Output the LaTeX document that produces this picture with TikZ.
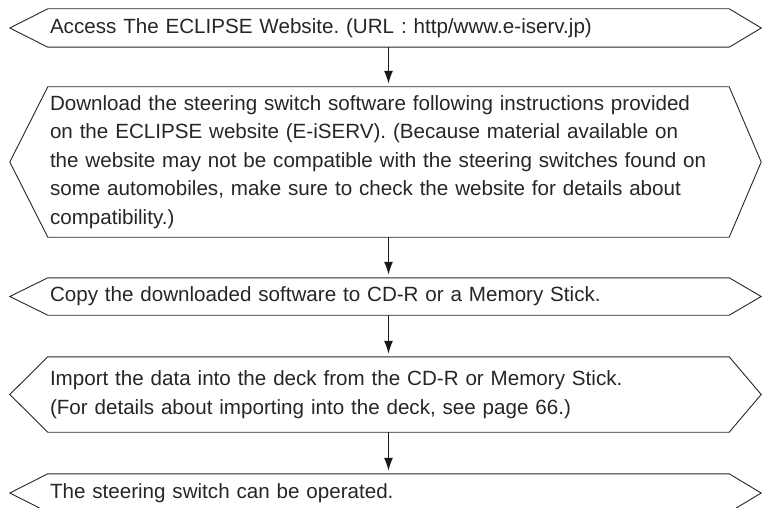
\documentclass[tikz,border=0pt]{standalone}
\usepackage{fontspec}
\setmainfont{Liberation Sans}
\usetikzlibrary{calc,arrows.meta}
\begin{document}
\frenchspacing
\begin{tikzpicture}[x=1pt,y=-1pt,
  body/.style={minimum width=681pt, text width=677pt, inner xsep=2pt, inner ysep=0pt,
    align=left, font=\fontsize{20.6pt}{28.4pt}\selectfont\frenchspacing, text=black!85, anchor=center},
  hex/.style={draw=black!85, line width=0.9pt, line join=miter},
  flow/.style={draw=black!90, line width=1.3pt, -{Latex[length=13pt,width=9pt]}, shorten >=3pt}]
\useasboundingbox (0,0) rectangle (762,508);
\clip (0,0) rectangle (762,508);
\newcommand\hexdraw[1]{%
  \draw[hex] (#1.north west) -- (#1.north east) -- ($(#1.east)+(32,0)$) -- (#1.south east)
    -- (#1.south west) -- ($(#1.west)+(-38,0)$) -- cycle;}
\node[body, minimum height=38pt] (b1) at (388.5,28) {Access The ECLIPSE Website. (URL : http/www.e-iserv.jp)};
\node[body, minimum height=150pt] (b2) at (388.5,162) {Download the steering switch software following instructions provided\\on the ECLIPSE website (E-iSERV). (Because material available on\\the website may not be compatible with the steering switches found on\\some automobiles, make sure to check the website for details about\\compatibility.)};
\node[body, minimum height=37pt] (b3) at (388.5,296.5) {Copy the downloaded software to CD-R or a Memory Stick.};
\node[body, minimum height=75pt] (b4) at (388.5,394.5) {Import the data into the deck from the CD-R or Memory Stick.\\(For details about importing into the deck, see page 66.)};
\node[body, minimum height=38pt] (b5) at (388.5,493) {The steering switch can be operated.};
\hexdraw{b1}\hexdraw{b2}\hexdraw{b3}\hexdraw{b4}\hexdraw{b5}
\draw[flow] (b1.south) -- (b2.north);
\draw[flow] (b2.south) -- (b3.north);
\draw[flow] (b3.south) -- (b4.north);
\draw[flow] (b4.south) -- (b5.north);
\end{tikzpicture}
\end{document}
